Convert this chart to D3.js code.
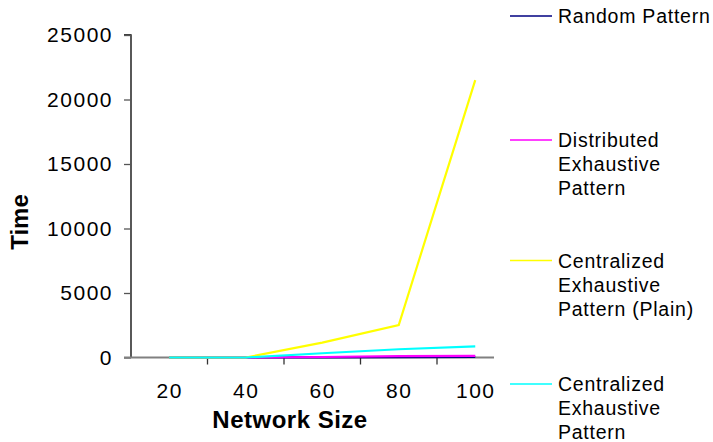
<!DOCTYPE html>
<html>
<head>
<meta charset="utf-8">
<script src="https://cdn.jsdelivr.net/npm/d3@7"></script>
<style>
  html, body { margin: 0; padding: 0; background: #fff; }
  svg { display: block; font-family: "Liberation Sans", Arial, sans-serif; }
</style>
</head>
<body>
<svg id="chart" width="713" height="442"></svg>
<script>
// Network sizes on the category axis
const networkSizes = [20, 40, 60, 80, 100];

// Running time per pattern
const randomPattern       = [0, 5, 15, 30, 50];
const distributedPattern  = [0, 10, 40, 100, 130];
const centralPlainPattern = [0, 0, 1150, 2520, 21500];
const centralPattern      = [0, 0, 330, 640, 870];

const yTicks = [0, 5000, 10000, 15000, 20000, 25000];

const seriesNames = [
  ["Random Pattern"],
  ["Distributed", "Exhaustive", "Pattern"],
  ["Centralized", "Exhaustive", "Pattern (Plain)"],
  ["Centralized", "Exhaustive", "Pattern"]
];
const seriesColors = ["#000080", "#ff00ff", "#ffff00", "#00ffff"];
const seriesValues = [randomPattern, distributedPattern, centralPlainPattern, centralPattern];

const svg = d3.select("#chart");

const x = d3.scaleBand().domain(networkSizes).range([131, 513.5]);
const y = d3.scaleLinear().domain([0, 25000]).range([357.5, 35]);

// y axis
const yAxis = svg.append("g").attr("transform", "translate(131,0)")
  .call(d3.axisLeft(y).tickValues(yTicks).tickFormat(d3.format("d")).tickSize(7).tickPadding(10));
yAxis.select(".domain").attr("stroke", "#000").attr("stroke-width", 1.3)
  .attr("d", `M-7,${y(25000)}H0V${y(0)}`);
yAxis.selectAll(".tick line").attr("stroke", "#555").attr("stroke-width", 1.3);
yAxis.selectAll("text").attr("font-size", 21).attr("letter-spacing", 1.5)
  .attr("fill", "#000").attr("dx", -1).style("font-family", "Liberation Sans, Arial, sans-serif");

// x axis: ticks fall between categories
const xg = svg.append("g").attr("transform", `translate(0,${y(0)})`);
xg.append("line").attr("x1", 124).attr("x2", 494).attr("stroke", "#808080").attr("stroke-width", 2);
xg.selectAll("line.tk").data(networkSizes.slice(1)).join("line")
  .attr("class", "tk")
  .attr("x1", d => x(d)).attr("x2", d => x(d)).attr("y1", 0).attr("y2", 7)
  .attr("stroke", "#333").attr("stroke-width", 1.3);
xg.selectAll("text").data(networkSizes).join("text")
  .attr("x", d => x(d) + x.bandwidth() / 2 + 0.5)
  .attr("y", 40.5)
  .attr("text-anchor", "middle")
  .attr("font-size", 21).attr("letter-spacing", 1.5)
  .text(d => d);

// series lines
const line = d3.line()
  .x((d, i) => x(networkSizes[i]) + x.bandwidth() / 2)
  .y(d => y(d));
seriesValues.forEach((vals, k) => {
  svg.append("path").datum(vals)
    .attr("d", line)
    .attr("fill", "none")
    .attr("stroke", seriesColors[k])
    .attr("stroke-width", 2.2)
    .attr("stroke-linejoin", "miter");
});

// axis titles
svg.append("text")
  .attr("transform", "translate(28,222) rotate(-90)")
  .attr("text-anchor", "middle")
  .attr("font-size", 24).attr("font-weight", "bold")
  .text("Time");
svg.append("text")
  .attr("x", 290).attr("y", 428)
  .attr("text-anchor", "middle")
  .attr("font-size", 24).attr("font-weight", "bold")
  .attr("letter-spacing", 0.5)
  .text("Network Size");

// legend
const legendTops = [16, 140, 260.5, 384];
seriesNames.forEach((lines, k) => {
  const g = svg.append("g").attr("transform", `translate(0,${legendTops[k]})`);
  g.append("line").attr("x1", 510).attr("x2", 552).attr("y1", 0).attr("y2", 0)
    .attr("stroke", seriesColors[k]).attr("stroke-width", 1.5);
  lines.forEach((t, j) => {
    g.append("text").attr("x", 558).attr("y", j * 24 + 7)
      .attr("font-size", 19.5).attr("letter-spacing", 0.75)
      .text(t);
  });
});
</script>
</body>
</html>
